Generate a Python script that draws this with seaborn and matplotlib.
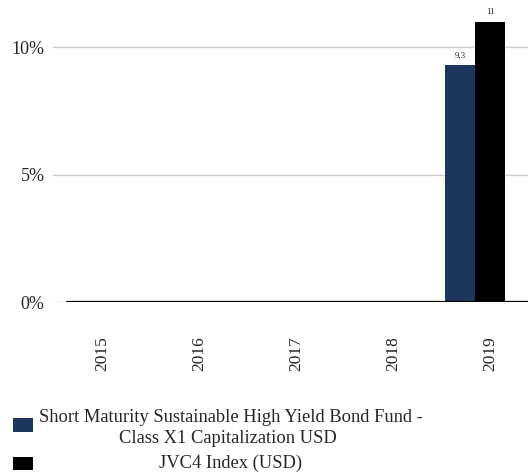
import matplotlib
matplotlib.use("Agg")
import matplotlib.pyplot as plt
import seaborn as sns
import pandas as pd
from matplotlib.patches import Rectangle

years = ["2015", "2016", "2017", "2018", "2019"]
fund_name = "Short Maturity Sustainable High Yield Bond Fund -\nClass X1 Capitalization USD"
fund_lines = ["Short Maturity Sustainable High Yield Bond Fund -", "Class X1 Capitalization USD"]
index_name = "JVC4 Index (USD)"
fund_values = [0, 0, 0, 0, 9.3]
index_values = [0, 0, 0, 0, 11.0]
fund_labels = ["", "", "", "", "9,3"]
index_labels = ["", "", "", "", "11"]
y_ticks = [0, 5, 10]
y_ticklabels = ["0%", "5%", "10%"]

colors = ["#1c365e", "#000000"]

df = pd.DataFrame({
    "year": years * 2,
    "series": [fund_name] * len(years) + [index_name] * len(years),
    "value": fund_values + index_values,
})

sns.set_theme(style="white")
plt.rcParams["font.family"] = ["Liberation Serif", "DejaVu Serif"]

fig = plt.figure(figsize=(5.28, 4.73), dpi=100)
W, H = 528, 473
left_px, right_px = 53.0, 528.0
top_px, bottom_px = 0.0, 302.0
origin_px, step_px = 87.0, 97.0   # pixel of category 0 centre, px per category
ax = fig.add_axes([left_px / W, 1 - bottom_px / H, (right_px - left_px) / W, (bottom_px - top_px) / H])

sns.barplot(data=df, x="year", y="value", hue="series", palette=colors,
            width=0.62, saturation=1, ax=ax, legend=False, linewidth=0)

ax.set_xlim((left_px - origin_px) / step_px, (right_px - origin_px) / step_px)
ax.set_ylim(0, 11.85)
ax.set_yticks(y_ticks)
ax.set_yticklabels(y_ticklabels, fontsize=13)
ax.set_xticks([i + 15.0 / step_px for i in range(len(years))])
ax.set_xticklabels(years)
ax.yaxis.grid(True, color="#cccccc", linewidth=1)
ax.set_axisbelow(True)
for s in ax.spines.values():
    s.set_visible(False)
ax.tick_params(axis="y", length=0, pad=6)
ax.tick_params(axis="x", length=0, pad=25, labelrotation=90, labelsize=12.5)
ax.set_xlabel("")
ax.set_ylabel("")
ax.axhline(0, xmin=(67 - left_px) / (right_px - left_px), xmax=1, color="black", linewidth=1.6, zorder=3)

# value labels
for cont, labels in zip(ax.containers, [fund_labels, index_labels]):
    ax.bar_label(cont, labels=labels, fontsize=6.5, padding=4)

# legend
fig.add_artist(Rectangle((13 / W, 1 - 432 / H), 20 / W, 14 / H, transform=fig.transFigure,
                         facecolor=colors[0], edgecolor="none"))
fig.add_artist(Rectangle((13 / W, 1 - 470 / H), 20 / W, 13 / H, transform=fig.transFigure,
                         facecolor=colors[1], edgecolor="none"))
fig.text(231 / W, 1 - 422 / H, fund_lines[0], ha="center", va="baseline", fontsize=13.3)
fig.text(228 / W, 1 - 443 / H, fund_lines[1], ha="center", va="baseline", fontsize=13.3)
fig.text(231 / W, 1 - 467.5 / H, index_name, ha="center", va="baseline", fontsize=13.3)

fig.savefig("out.png", dpi=100)
